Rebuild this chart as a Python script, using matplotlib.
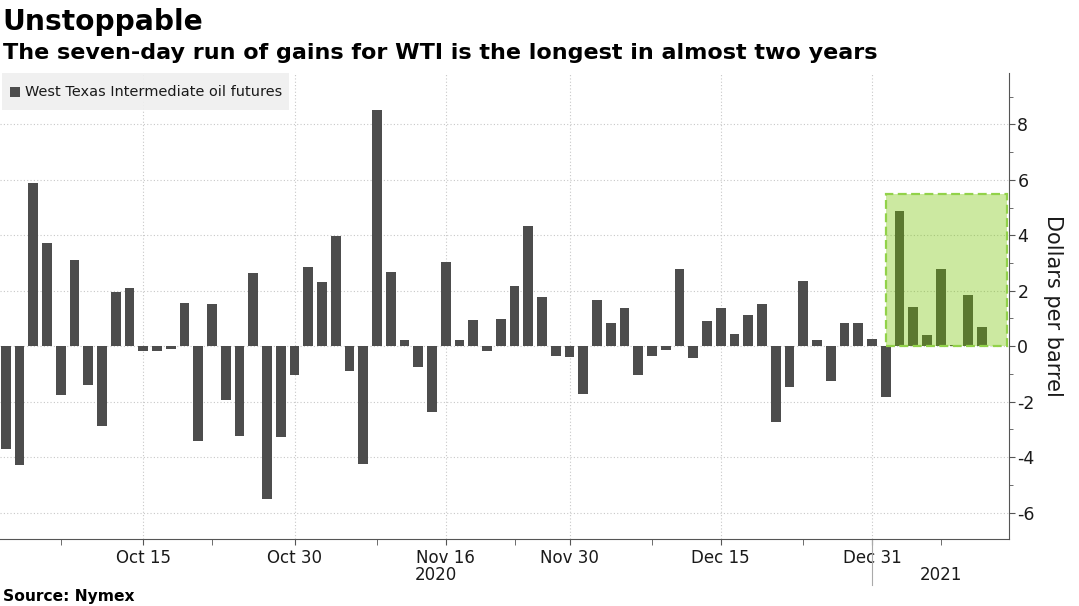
import matplotlib
matplotlib.use("Agg")
import matplotlib.pyplot as plt
import matplotlib.patches as mpatches
import matplotlib.transforms as mtransforms
import numpy as np
import pandas as pd

plt.rcParams["axes.unicode_minus"] = False

# ---------------- data ----------------
holidays = ["2020-11-26", "2020-12-25", "2021-01-01"]
dates = pd.bdate_range("2020-10-01", "2021-01-13", freq="C", holidays=holidays)

values = [-3.71, -4.30, 5.87, 3.71, -1.77, 3.12, -1.41, -2.86, 1.95, 2.11,
          -0.18, -0.18, -0.11, 1.56, -3.42, 1.53, -1.93, -3.23, 2.64, -5.50,
          -3.26, -1.02, 2.85, 2.31, 3.97, -0.89, -4.24, 8.50, 2.66, 0.22,
          -0.76, -2.36, 3.02, 0.22, 0.95, -0.18, 0.99, 2.18, 4.32, 1.78,
          -0.37, -0.40, -1.72, 1.66, 0.82, 1.36, -1.05, -0.34, -0.14, 2.79,
          -0.43, 0.91, 1.36, 0.43, 1.14, 1.53, -2.73, -1.48, 2.35, 0.24,
          -1.25, 0.82, 0.84, 0.26, -1.83, 4.87, 1.41, 0.40, 2.79, 0.05,
          1.85, 0.69]

major_dates = ["2020-10-15", "2020-10-30", "2020-11-16", "2020-11-30", "2020-12-15", "2020-12-31"]
major_labels = ["Oct 15", "Oct 30", "Nov 16", "Nov 30", "Dec 15", "Dec 31"]
minor_dates = ["2020-10-07", "2020-10-22", "2020-11-09", "2020-11-23", "2020-12-08", "2020-12-23", "2021-01-08"]
year_labels = ["2020", "2021"]
year_break = "2020-12-31"
highlight_start = "2021-01-04"
highlight_top = 5.5

title = "Unstoppable"
subtitle = "The seven-day run of gains for WTI is the longest in almost two years"
legend_label = "West Texas Intermediate oil futures"
ylabel = "Dollars per barrel"
source = "Source: Nymex"

# ---------------- figure ----------------
W, H = 1079, 606
fig = plt.figure(figsize=(W / 100, H / 100), dpi=100)
fig.patch.set_facecolor("white")

def fx(px):
    return px / W

def fy(py):
    return 1 - py / H

ax_l, ax_r, ax_t, ax_b = 0, 1009, 73, 539
ax = fig.add_axes([fx(ax_l), fy(ax_b), fx(ax_r - ax_l), (ax_b - ax_t) / H])

def idx(d):
    return dates.get_loc(pd.Timestamp(d))

x = np.arange(len(dates))
ax.bar(x, values, width=0.7, color="#4d4d4d", zorder=2)

xmin, xmax = -0.42, 72.96
ax.set_xlim(xmin, xmax)
ax.set_ylim(-6.95, 9.85)

# highlight box
hs = idx(highlight_start)
ax.add_patch(mpatches.Rectangle((hs, 0), 72.85 - hs, highlight_top,
                                facecolor=(0.46, 0.77, 0.0, 0.37), edgecolor="none", zorder=3))
ax.add_patch(mpatches.Rectangle((hs, 0), 72.85 - hs, highlight_top, fill=False,
                                edgecolor="#92d24a", linewidth=1.6, linestyle=(0, (4, 2)), zorder=4))

# axes style
for s in ["left", "top"]:
    ax.spines[s].set_visible(False)
ax.spines["right"].set_color("#555555")
ax.spines["bottom"].set_color("#555555")
ax.yaxis.tick_right()
ax.yaxis.set_label_position("right")
ax.set_yticks(np.arange(-6, 9, 2))
ax.set_yticks(np.arange(-5, 10, 2), minor=True)
ax.tick_params(axis="y", which="both", direction="out", length=4, color="#555555",
               labelsize=12.5, labelcolor="#1a1a1a", pad=2)
ax.tick_params(axis="y", which="minor", length=3)

ax.set_xticks([idx(d) for d in major_dates])
ax.set_xticklabels(major_labels)
ax.set_xticks([idx(d) for d in minor_dates], minor=True)
ax.tick_params(axis="x", which="both", direction="out", length=4, color="#555555",
               labelsize=12, labelcolor="#1a1a1a", pad=3)

ax.grid(axis="both", which="major", linestyle=(0, (1, 2)), color="#c8c8c8", linewidth=0.8, zorder=0)
ax.set_axisbelow(True)

ax.set_ylabel(ylabel, rotation=270, fontsize=15, color="#1a1a1a", labelpad=20)

# year labels and separator
trans = mtransforms.blended_transform_factory(ax.transData, ax.transAxes)
yb = idx(year_break)
ax.plot([yb, yb], [0, -(585 - 539) / (ax_b - ax_t)], transform=trans, color="#aaaaaa",
        linewidth=0.8, clip_on=False)
y_year = -(575 - 539) / (ax_b - ax_t)
ax.text((xmin + yb) / 2, y_year, year_labels[0], transform=trans, ha="center", va="center",
        fontsize=12, color="#1a1a1a")
ax.text((yb + xmax) / 2, y_year, year_labels[1], transform=trans, ha="center", va="center",
        fontsize=12, color="#1a1a1a")

# legend
fig.patches.append(mpatches.Rectangle((fx(2), fy(110)), fx(287), (110 - 73) / H,
                                      transform=fig.transFigure, facecolor="#efefef",
                                      edgecolor="none", zorder=5, alpha=0.9))
fig.patches.append(mpatches.Rectangle((fx(10), fy(97)), fx(10), 10 / H,
                                      transform=fig.transFigure, facecolor="#4d4d4d",
                                      edgecolor="none", zorder=6))
leg = fig.text(fx(25), fy(92), legend_label, ha="left", va="center", fontsize=10,
               color="#1a1a1a", zorder=7)

t1 = fig.text(fx(2), fy(22), title, ha="left", va="center", fontsize=22, fontweight="bold",
              color="black")
t2 = fig.text(fx(3), fy(53), subtitle, ha="left", va="center", fontsize=15, fontweight="bold",
              color="black")
t3 = fig.text(fx(3), fy(596), source, ha="left", va="center", fontsize=11, fontweight="bold",
              color="black")

# fit text widths to the reference
fig.canvas.draw()
r = fig.canvas.get_renderer()
for t, target in [(t1, 200), (t2, 875), (leg, 255), (t3, 132)]:
    w = t.get_window_extent(r).width
    t.set_fontsize(t.get_fontsize() * target / w)

fig.savefig("out.png", dpi=100)
